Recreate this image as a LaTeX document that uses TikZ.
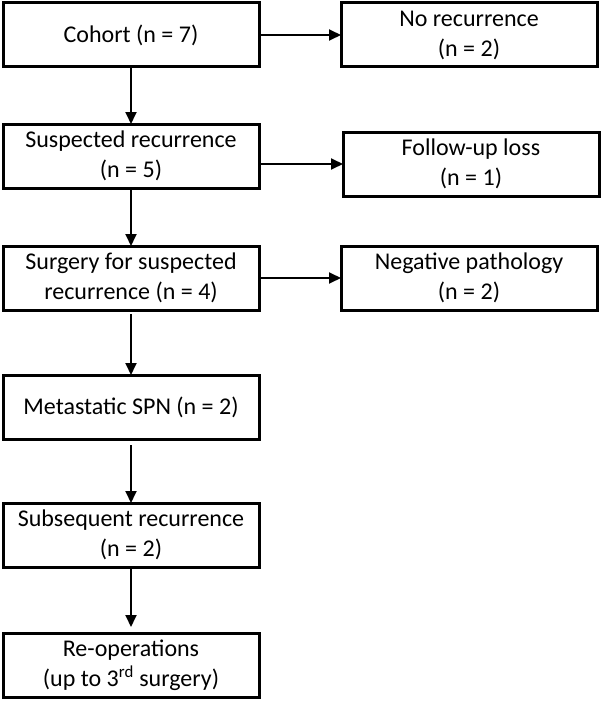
\documentclass[tikz,border=0pt]{standalone}
\usepackage{fontspec}
\setmainfont{Carlito}
\usetikzlibrary{arrows.meta, positioning}
\tikzset{
  flowbox/.style={draw, line width=3pt, align=center, font=\fontsize{24}{30}\selectfont,
                  minimum width=256pt, minimum height=64pt, inner sep=2pt, outer sep=0pt},
  mainbox/.style={flowbox},
  sidebox/.style={flowbox},
  flowarrow/.style={-{Triangle[length=12pt, width=11pt]}, line width=1.8pt}
}

\begin{document}
\begin{tikzpicture}
\useasboundingbox (0,0) rectangle (603pt,-701pt);

% Main column (left)
\node[mainbox] (cohort) at (131pt,-35pt) {Cohort (n = 7)};
\node[mainbox, below=57pt of cohort] (suspected) {Suspected recurrence\\(n = 5)};
\node[mainbox, below=58pt of suspected] (surgery) {Surgery for suspected\\recurrence (n = 4)};
\node[mainbox, below=65pt of surgery] (metastatic) {Metastatic SPN (n = 2)};
\node[mainbox, below=64pt of metastatic] (subsequent) {Subsequent recurrence\\(n = 2)};
\node[mainbox, below=66pt of subsequent] (reop) {Re-operations\\(up to 3\textsuperscript{rd} surgery)};

% Exclusions (right)
\node[sidebox, right=82pt of cohort] (norec) {No recurrence\\(n = 2)};
\node[sidebox, right=84pt of suspected, yshift=-8pt] (fuloss) {Follow-up loss\\(n = 1)};
\node[sidebox, right=82pt of surgery] (negpath) {Negative pathology\\(n = 2)};

% Arrows - main flow
\draw[flowarrow] (cohort) -- (suspected);
\draw[flowarrow] (suspected) -- (surgery);
\draw[flowarrow, shorten <=4pt] (surgery) -- (metastatic);
\draw[flowarrow, shorten <=6pt] (metastatic) -- (subsequent);
\draw[flowarrow, shorten >=6pt] (subsequent) -- (reop);

% Arrows - exclusions
\draw[flowarrow] (cohort) -- (norec);
\draw[flowarrow, shorten <=2pt] (fuloss.west -| suspected.east) -- (fuloss.west);
\draw[flowarrow] (surgery) -- (negpath);

\end{tikzpicture}
\end{document}
